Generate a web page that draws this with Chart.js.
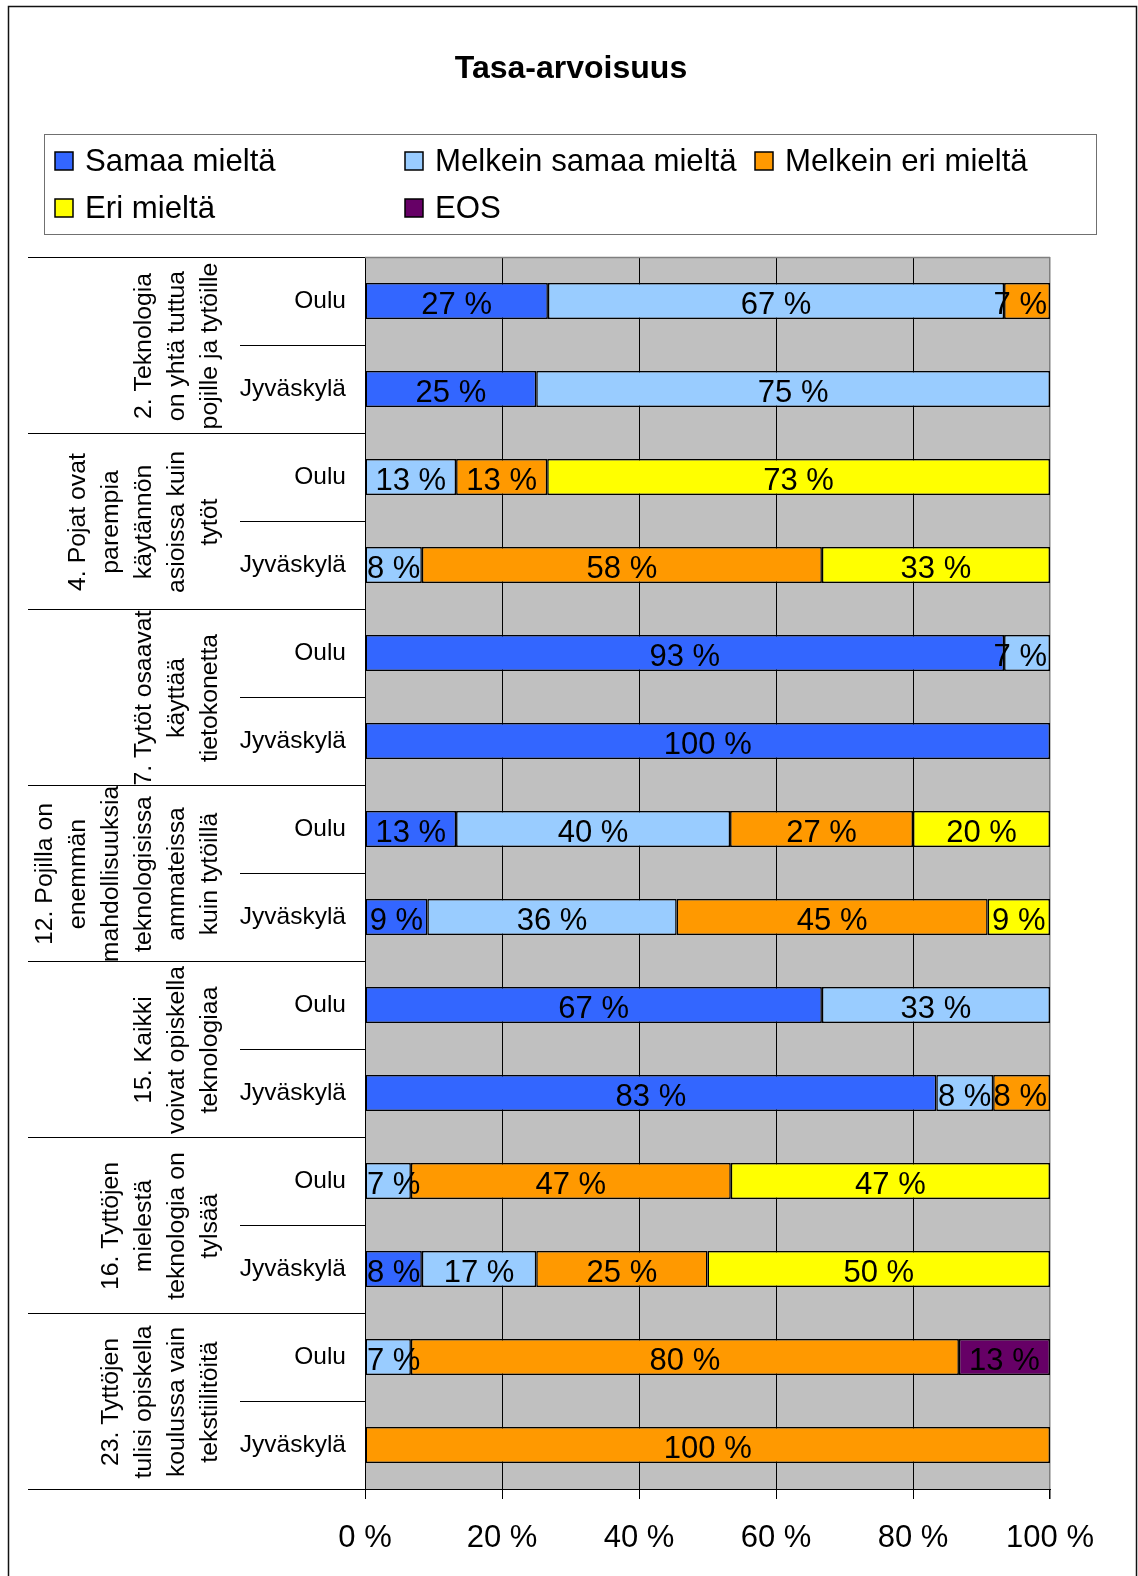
<!DOCTYPE html>
<html>
<head>
<meta charset="utf-8">
<title>Tasa-arvoisuus</title>
<script src="https://cdn.jsdelivr.net/npm/chart.js@4.4.1/dist/chart.umd.min.js"></script>
<style>
  html, body { margin: 0; padding: 0; background: #fff; }
  #wrap { width: 1138px; height: 1576px; position: relative; }
</style>
</head>
<body>
<div id="wrap"><canvas id="chart"></canvas></div>
<script>
// ---- Data -------------------------------------------------------------
const chartTitle = 'Tasa-arvoisuus';

const cities = ['Oulu', 'Jyväskylä'];

// Statements, each shown as a wrapped, rotated group label
const questions = [
  ['2. Teknologia', 'on yhtä tuttua', 'pojille ja tytöille'],
  ['4. Pojat ovat', 'parempia', 'käytännön', 'asioissa kuin', 'tytöt'],
  ['7. Tytöt osaavat', 'käyttää', 'tietokonetta'],
  ['12. Pojilla on', 'enemmän', 'mahdollisuuksia', 'teknologisissa', 'ammateissa', 'kuin tytöillä'],
  ['15. Kaikki', 'voivat opiskella', 'teknologiaa'],
  ['16. Tyttöjen', 'mielestä', 'teknologia on', 'tylsää'],
  ['23. Tyttöjen', 'tulisi opiskella', 'koulussa vain', 'tekstiilitöitä']
];

const seriesNames = ['Samaa mieltä', 'Melkein samaa mieltä', 'Melkein eri mieltä', 'Eri mieltä', 'EOS'];
const seriesColors = ['#3366FF', '#99CCFF', '#FF9900', '#FFFF00', '#660066'];

// Shares in percent, rows: Q2 Oulu, Q2 Jyväskylä, Q4 Oulu, ... Q23 Jyväskylä
const samaaMielta        = [26.7, 25,   null, null, 93.3, 100,  13.3, 9.1,  66.7, 83.4, null, 8.3,  null, null];
const melkeinSamaaMielta = [66.6, 75,   13.3, 8.3,  6.7,  null, 40,   36.4, 33.3, 8.3,  6.7,  16.7, 6.7,  null];
const melkeinEriMielta   = [6.7,  null, 13.3, 58.4, null, null, 26.7, 45.4, null, 8.3,  46.7, 25,   80,   100];
const eriMielta          = [null, null, 73.4, 33.3, null, null, 20,   9.1,  null, null, 46.6, 50,   null, null];
const eos                = [null, null, null, null, null, null, null, null, null, null, null, null, 13.3, null];

const xTicks = [0, 20, 40, 60, 80, 100];

// ---- Chart ------------------------------------------------------------
const FONT = '"Liberation Sans", Arial, Helvetica, sans-serif';
const seriesValues = [samaaMielta, melkeinSamaaMielta, melkeinEriMielta, eriMielta, eos];
const rowLabels = [];
questions.forEach(() => cities.forEach(c => rowLabels.push(c)));

Chart.defaults.font.family = FONT;
Chart.defaults.color = '#000';

function line(ctx, x0, y0, x1, y1) {
  ctx.beginPath(); ctx.moveTo(x0, y0); ctx.lineTo(x1, y1); ctx.stroke();
}

// Backgrounds, frame, title, legend and two-level category labels
const decorations = {
  id: 'decorations',
  beforeDraw(chart) {
    const { ctx, chartArea: a } = chart;
    ctx.save();
    ctx.fillStyle = '#fff';
    ctx.fillRect(0, 0, chart.width, chart.height);
    ctx.fillStyle = '#C0C0C0';
    ctx.fillRect(a.left, a.top, a.right - a.left, a.bottom - a.top);
    ctx.restore();
  },
  beforeDatasetsDraw(chart) {
    const { ctx, chartArea: a } = chart;
    ctx.save();
    ctx.strokeStyle = '#808080';
    ctx.lineWidth = 1.5;
    line(ctx, a.left, a.top + 0.5, a.right, a.top + 0.5);
    ctx.restore();
  },
  afterDraw(chart) {
    const { ctx, chartArea: a } = chart;
    const ys = chart.scales.y;
    ctx.save();

    // outer frame
    ctx.strokeStyle = '#111';
    ctx.lineWidth = 1.5;
    ctx.strokeRect(8.5, 6.5, 1128, 1600);

    // title
    ctx.fillStyle = '#000';
    ctx.font = 'bold 32px ' + FONT;
    ctx.textAlign = 'center';
    ctx.textBaseline = 'alphabetic';
    ctx.fillText(chartTitle, 571, 78);

    // legend box
    ctx.strokeStyle = '#707070';
    ctx.lineWidth = 1;
    ctx.strokeRect(44.5, 134.5, 1052, 100);
    const cols = [55, 405, 755];
    const rows = [171, 218];
    ctx.font = '31.2px ' + FONT;
    ctx.textAlign = 'left';
    chart.data.datasets.forEach((ds, i) => {
      const x = cols[i % 3], base = rows[Math.floor(i / 3)];
      ctx.fillStyle = ds.backgroundColor;
      ctx.fillRect(x, base - 19, 18, 18);
      ctx.strokeStyle = '#000';
      ctx.lineWidth = 1.5;
      ctx.strokeRect(x, base - 19, 18, 18);
      ctx.fillStyle = '#000';
      ctx.fillText(ds.label, x + 30, base);
    });

    // category separators
    const step = ys.getPixelForValue(1) - ys.getPixelForValue(0);
    ctx.strokeStyle = '#000';
    ctx.lineWidth = 1;
    for (let i = 0; i <= rowLabels.length; i++) {
      const y = Math.round(ys.getPixelForValue(i) - step / 2) + 0.5;
      const x0 = (i % 2 === 0) ? 28 : 240;
      line(ctx, x0, y, a.left, y);
    }

    // rotated statement labels
    ctx.font = '24.8px ' + FONT;
    ctx.fillStyle = '#000';
    ctx.textAlign = 'center';
    ctx.textBaseline = 'alphabetic';
    questions.forEach((lines, g) => {
      const cy = (ys.getPixelForValue(2 * g) + ys.getPixelForValue(2 * g + 1)) / 2 + 1;
      const n = lines.length;
      lines.forEach((txt, i) => {
        const bx = 217 - (n - 1 - i) * 33;
        ctx.save();
        ctx.translate(bx, cy);
        ctx.rotate(-Math.PI / 2);
        ctx.fillText(txt, 0, 0);
        ctx.restore();
      });
    });
    ctx.restore();
  },
  afterDatasetsDraw(chart) {
    // value labels inside the bar segments
    const { ctx, chartArea: a } = chart;
    ctx.save();
    ctx.font = '31px ' + FONT;
    ctx.fillStyle = '#000';
    ctx.textAlign = 'center';
    ctx.textBaseline = 'middle';
    chart.data.datasets.forEach((ds, di) => {
      const meta = chart.getDatasetMeta(di);
      meta.data.forEach((el, i) => {
        const v = ds.data[i];
        if (v == null || v <= 0) return;
        const txt = Math.round(v) + ' %';
        const w = ctx.measureText(txt).width;
        let x = (el.x + el.base) / 2;
        x = Math.max(a.left + w / 2 + 2, Math.min(a.right - w / 2 - 3, x));
        ctx.fillText(txt, x, el.y + 4);
      });
    });
    ctx.restore();
  }
};

new Chart(document.getElementById('chart'), {
  type: 'bar',
  data: {
    labels: rowLabels,
    datasets: seriesNames.map((name, i) => ({
      label: name,
      data: seriesValues[i],
      backgroundColor: seriesColors[i],
      borderColor: '#000',
      borderWidth: 1.5,
      borderSkipped: false,
      barPercentage: 0.41,
      categoryPercentage: 1
    }))
  },
  options: {
    indexAxis: 'y',
    responsive: true,
    maintainAspectRatio: false,
    animation: false,
    layout: { padding: { top: 257, right: 88, bottom: 0, left: 0 } },
    plugins: {
      legend: { display: false },
      title: { display: false },
      tooltip: { enabled: false }
    },
    scales: {
      x: {
        stacked: true,
        min: 0,
        max: 100,
        afterBuildTicks(scale) { scale.ticks = xTicks.map(v => ({ value: v })); },
        afterFit(scale) { scale.height = 87; },
        ticks: {
          font: { size: 31 },
          color: '#000',
          padding: 21,
          maxRotation: 0,
          callback: v => v + ' %'
        },
        grid: {
          color: ctx => (ctx.tick && ctx.tick.value === 100) ? '#808080' : '#000',
          lineWidth: ctx => (ctx.tick && ctx.tick.value === 100) ? 1.5 : 1,
          drawTicks: true,
          tickLength: 10,
          tickColor: '#000'
        },
        border: { display: true, color: '#000', width: 1 }
      },
      y: {
        stacked: true,
        afterFit(scale) { scale.width = 365; },
        ticks: {
          font: { size: 24.5 },
          color: '#000',
          padding: 19
        },
        grid: { display: false, drawTicks: false },
        border: { display: true, color: '#000', width: 1 }
      }
    }
  },
  plugins: [decorations]
});
</script>
</body>
</html>
